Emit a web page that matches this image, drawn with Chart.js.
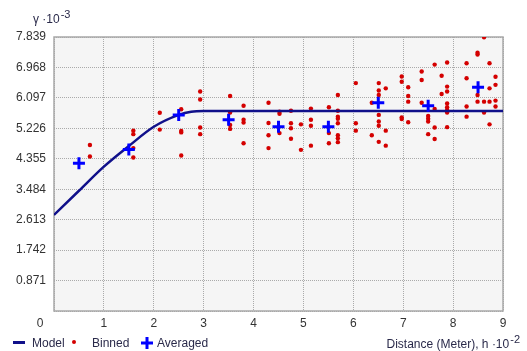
<!DOCTYPE html>
<html lang="en">
<head>
<meta charset="UTF-8">
<title>Semivariogram</title>
<script src="https://cdn.jsdelivr.net/npm/chart.js@4"></script>
<style>
  body { margin: 0; background: #fff; }
</style>
</head>
<body>
<canvas id="myChart" width="527" height="351"></canvas>
<script>
// tick values
const xTicks = [0, 1, 2, 3, 4, 5, 6, 7, 8, 9];
const yTicks = [0, 0.871, 1.742, 2.613, 3.484, 4.355, 5.226, 6.097, 6.968, 7.839];

// model curve
const modelX = [0, 0.5, 1, 1.5, 2, 2.5, 2.75, 3, 9];
const modelY = [2.75, 3.44, 4.13, 4.72, 5.27, 5.61, 5.70, 5.72, 5.72];

// binned points
const binnedX = [
  0.72, 0.72,
  1.59, 1.59, 1.59, 1.59,
  2.12, 2.12,
  2.55, 2.55, 2.55, 2.55,
  2.93, 2.93, 2.93, 2.93,
  3.53, 3.53, 3.53, 3.53,
  3.80, 3.80, 3.80, 3.80,
  4.30, 4.30, 4.30, 4.30,
  4.52, 4.52, 4.52,
  4.75, 4.75, 4.75, 4.75,
  4.95, 4.95,
  5.15, 5.15, 5.15, 5.15,
  5.51, 5.51, 5.51,
  5.69, 5.69, 5.69, 5.69, 5.69, 5.69, 5.69, 5.69,
  6.05, 6.05, 6.05,
  6.37, 6.37,
  6.51, 6.51, 6.51, 6.51, 6.51, 6.51, 6.51,
  6.65, 6.65, 6.65,
  6.97, 6.97, 6.97, 6.97,
  7.10, 7.10, 7.10, 7.10,
  7.37, 7.37, 7.37,
  7.50, 7.50, 7.50, 7.50,
  7.63, 7.63, 7.63, 7.63,
  7.77, 7.77,
  7.88, 7.88, 7.88, 7.88, 7.88, 7.88, 7.88, 7.88,
  8.27, 8.27, 8.27, 8.27,
  8.49, 8.49, 8.49, 8.49,
  8.62, 8.62, 8.62,
  8.73, 8.73, 8.73, 8.73,
  8.85, 8.85, 8.85, 8.85
];
const binnedY = [
  4.75, 4.42,
  5.16, 5.06, 4.66, 4.39,
  5.67, 5.19,
  5.77, 5.15, 5.11, 4.45,
  6.28, 6.05, 5.25, 5.06,
  6.15, 5.68, 5.32, 5.21,
  5.87, 5.47, 5.39, 4.80,
  5.96, 5.38, 5.03, 4.66,
  5.70, 5.64, 5.09,
  5.73, 5.37, 5.23, 4.93,
  5.34, 4.61,
  5.79, 5.47, 5.30, 4.73,
  5.83, 5.09, 4.80,
  6.18, 5.73, 5.56, 5.50, 5.37, 5.03, 4.94, 4.83,
  6.52, 5.37, 5.16,
  5.96, 5.03,
  6.52, 6.31, 6.18, 5.61, 5.42, 5.30, 4.84,
  6.37, 5.16, 4.73,
  6.71, 6.56, 5.54, 5.49,
  6.40, 6.15, 5.99, 5.40,
  6.85, 6.61, 5.96,
  5.58, 5.50, 5.42, 5.06,
  7.05, 5.78, 5.25, 4.92,
  6.73, 6.21,
  7.11, 6.42, 6.28, 5.94, 5.83, 5.75, 5.68, 5.26,
  7.09, 6.66, 5.85, 5.56,
  7.39, 7.34, 6.18, 5.99,
  7.83, 5.99, 5.68,
  7.09, 6.37, 5.99, 5.34,
  6.70, 6.47, 6.02, 5.85
];

// averaged points
const avgX = [0.5, 1.5, 2.5, 3.5, 4.5, 5.5, 6.5, 7.5, 8.5];
const avgY = [4.23, 4.62, 5.61, 5.47, 5.27, 5.27, 5.96, 5.87, 6.40];

const navy = '#10108a';
const red = '#d40000';
const blue = '#0000ff';
const textCol = '#2a2a4a';
const font = '12px "Liberation Sans", Arial, sans-serif';
const supFont = '11px "Liberation Sans", Arial, sans-serif';

function toPoints(xs, ys) {
  return xs.map((x, i) => ({ x: x, y: ys[i] }))
}

function supText(ctx, x, y, base, sup, align) {
  ctx.font = font
  let w1 = ctx.measureText(base).width
  ctx.font = supFont
  let w2 = ctx.measureText(sup).width
  let start = align === 'right' ? x - w1 - w2 : x
  ctx.textAlign = 'left'
  ctx.font = font
  ctx.fillText(base, start, y)
  ctx.font = supFont
  ctx.fillText(sup, start + w1 + 1, y - 5)
}

const decor = {
  id: 'decor',
  beforeDraw(chart) {
    const a = chart.chartArea
    const ctx = chart.ctx
    ctx.save()
    ctx.fillStyle = '#f5f5f5'
    ctx.fillRect(a.left, a.top, a.right - a.left, a.bottom - a.top)
    ctx.restore()
  },
  beforeDatasetsDraw(chart) {
    const a = chart.chartArea
    const ctx = chart.ctx
    ctx.save()
    ctx.strokeStyle = '#a8a8a8'
    ctx.lineWidth = 1.5
    ctx.strokeRect(a.left, a.top, a.right - a.left, a.bottom - a.top)
    ctx.restore()
  },
  afterDraw(chart) {
    const ctx = chart.ctx
    ctx.save()
    ctx.textBaseline = 'alphabetic'
    ctx.fillStyle = '#333'
    ctx.font = font
    ctx.textAlign = 'center'
    // shared origin label
    ctx.fillText('0', 40, 327)

    ctx.fillStyle = textCol
    supText(ctx, 33, 23, 'γ ·10', '-3', 'left')
    supText(ctx, 519, 348, 'Distance (Meter), h ·10', '-2', 'right')

    // legend
    ctx.fillStyle = navy
    ctx.fillRect(13, 341, 12, 3)
    ctx.fillStyle = textCol
    ctx.font = font
    ctx.textAlign = 'left'
    ctx.fillText('Model', 32, 347)
    ctx.fillStyle = red
    ctx.beginPath()
    ctx.arc(74, 342, 2, 0, Math.PI * 2)
    ctx.fill()
    ctx.fillStyle = textCol
    ctx.fillText('Binned', 92, 347)
    ctx.strokeStyle = blue
    ctx.lineWidth = 3
    ctx.beginPath()
    ctx.moveTo(141, 343); ctx.lineTo(153, 343)
    ctx.moveTo(147, 337); ctx.lineTo(147, 349)
    ctx.stroke()
    ctx.fillText('Averaged', 157, 347)
    ctx.restore()
  }
}

const ctx = document.getElementById('myChart').getContext('2d');
new Chart(ctx, {
  type: 'scatter',
  data: {
    datasets: [{
      label: 'Averaged',
      data: toPoints(avgX, avgY),
      pointStyle: 'cross',
      pointRadius: 6,
      borderWidth: 3,
      borderColor: blue,
      backgroundColor: blue,
      order: 0
    }, {
      label: 'Model',
      type: 'line',
      data: toPoints(modelX, modelY),
      borderColor: navy,
      borderWidth: 2.5,
      pointRadius: 0,
      fill: false,
      cubicInterpolationMode: 'monotone',
      order: 1
    }, {
      label: 'Binned',
      data: toPoints(binnedX, binnedY),
      pointRadius: 2.2,
      borderWidth: 0,
      backgroundColor: red,
      borderColor: red,
      order: 2
    }]
  },
  options: {
    responsive: false,
    animation: false,
    layout: { padding: { top: 37, right: 24, left: 0, bottom: 0 } },
    plugins: {
      legend: { display: false },
      tooltip: { enabled: false }
    },
    scales: {
      x: {
        type: 'linear',
        min: 0,
        max: 9,
        afterBuildTicks: s => { s.ticks = xTicks.map(v => ({ value: v })) },
        afterFit: s => { s.height = 40 },
        ticks: {
          padding: 5,
          color: '#333',
          font: { family: '"Liberation Sans", Arial, sans-serif', size: 12 },
          callback: v => v === 0 ? '' : String(v)
        },
        grid: { color: '#aaaaaa', drawTicks: false },
        border: { display: false, dash: [1, 1] }
      },
      y: {
        type: 'linear',
        min: 0,
        max: 7.839,
        afterBuildTicks: s => { s.ticks = yTicks.map(v => ({ value: v })) },
        afterFit: s => { s.width = 54 },
        ticks: {
          padding: 8,
          color: '#333',
          font: { family: '"Liberation Sans", Arial, sans-serif', size: 12 },
          callback: v => v === 0 ? '' : v.toFixed(3)
        },
        grid: { color: '#aaaaaa', drawTicks: false },
        border: { display: false, dash: [1, 1] }
      }
    }
  },
  plugins: [decor]
});
</script>
</body>
</html>
